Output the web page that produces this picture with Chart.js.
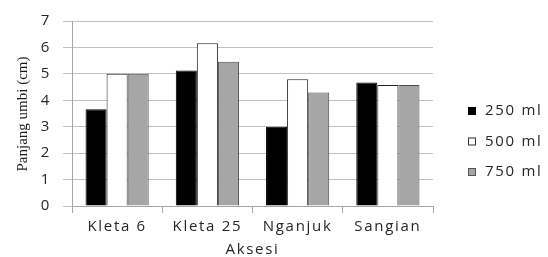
<!DOCTYPE html>
<html>
<head>
<meta charset="utf-8">
<script src="https://cdn.jsdelivr.net/npm/chart.js@4"></script>
<style>
  body { margin: 0; background: #fff; }
  #wrap { width: 548px; height: 257px; }
</style>
</head>
<body>
<div id="wrap"><canvas id="myChart" width="548" height="257"></canvas></div>
<script>
// DATA
const categories = ['Kleta 6', 'Kleta 25', 'Nganjuk', 'Sangian'];
const seriesNames = ['250 ml', '500 ml', '750 ml'];
const values250 = [3.66, 5.13, 3.0, 4.67];
const values500 = [5.0, 6.16, 4.8, 4.58];
const values750 = [5.0, 5.46, 4.29, 4.58];
const yTicks = [0, 1, 2, 3, 4, 5, 6, 7];

const textColor = '#262626';
const spacing = '1.7px';
const fontSize = 15;

// letter spacing for the stretched Calibri look
const spacingPlugin = {
  id: 'spacing',
  beforeLayout(chart) { chart.ctx.letterSpacing = spacing; },
  beforeDraw(chart) { chart.ctx.letterSpacing = spacing; }
};

// Y TITLE + LEGEND ON THE RIGHT
const extrasPlugin = {
  id: 'extras',
  afterDraw(chart) {
    const ctx = chart.ctx;
    ctx.save();
    ctx.letterSpacing = '0px';
    ctx.translate(23, 114);
    ctx.rotate(-Math.PI / 2);
    ctx.font = '15px "Liberation Serif"';
    ctx.fillStyle = '#1a1a1a';
    ctx.textAlign = 'center';
    ctx.textBaseline = 'middle';
    ctx.fillText('Panjang umbi (cm)', 0, 0);
    ctx.restore();

    ctx.save();
    ctx.letterSpacing = spacing;
    ctx.font = fontSize + 'px "Open Sans"';
    ctx.textBaseline = 'middle';
    chart.data.datasets.forEach((ds, i) => {
      const y = 111 + i * 30.5;
      ctx.fillStyle = ds.backgroundColor;
      ctx.fillRect(468, y - 4, 8, 8);
      ctx.strokeStyle = ds.legendBorder;
      ctx.lineWidth = 1;
      ctx.strokeRect(468.5, y - 3.5, 7, 7);
      ctx.fillStyle = textColor;
      ctx.fillText(ds.label, 485, y);
    });
    ctx.restore();
  }
};

const ctx = document.getElementById('myChart').getContext('2d');
const myChart = new Chart(ctx, {
  type: 'bar',
  data: {
    labels: categories,
    datasets: [{
      label: seriesNames[0],
      data: values250,
      backgroundColor: '#000000',
      borderColor: '#000000',
      legendBorder: '#000000',
      borderWidth: 1
    }, {
      label: seriesNames[1],
      data: values500,
      backgroundColor: '#ffffff',
      borderColor: '#222222',
      legendBorder: '#333333',
      borderWidth: 1
    }, {
      label: seriesNames[2],
      data: values750,
      backgroundColor: '#a6a6a6',
      borderColor: '#4d4d4d',
      legendBorder: '#555555',
      borderWidth: 1
    }]
  },
  options: {
    responsive: false,
    devicePixelRatio: 1,
    animation: false,
    layout: { padding: { top: 21, right: 115, left: 0, bottom: 0 } },
    plugins: {
      legend: { display: false },
      tooltip: { enabled: false }
    },
    datasets: {
      bar: { categoryPercentage: 0.7, barPercentage: 1 }
    },
    scales: {
      x: {
        grid: { drawOnChartArea: false, drawTicks: true, tickLength: 7, color: '#a6a6a6' },
        border: { color: '#a6a6a6' },
        ticks: { font: { family: 'Open Sans', size: fontSize }, color: textColor, padding: 5, maxRotation: 0 },
        title: {
          display: true, text: 'Aksesi',
          font: { family: 'Open Sans', size: fontSize, lineHeight: 1 },
          color: textColor, padding: { top: 0, bottom: 0 }
        },
        afterFit(scale) { scale.height = 51; }
      },
      y: {
        min: 0, max: 7,
        afterBuildTicks(scale) { scale.ticks = yTicks.map(v => ({ value: v })); },
        grid: { color: '#c0c0c0', tickLength: 9 },
        border: { color: '#a6a6a6' },
        ticks: { font: { family: 'Open Sans', size: fontSize }, color: textColor, padding: 12 },
        afterFit(scale) { scale.width = 72; }
      }
    }
  },
  plugins: [spacingPlugin, extrasPlugin]
});
</script>
</body>
</html>
